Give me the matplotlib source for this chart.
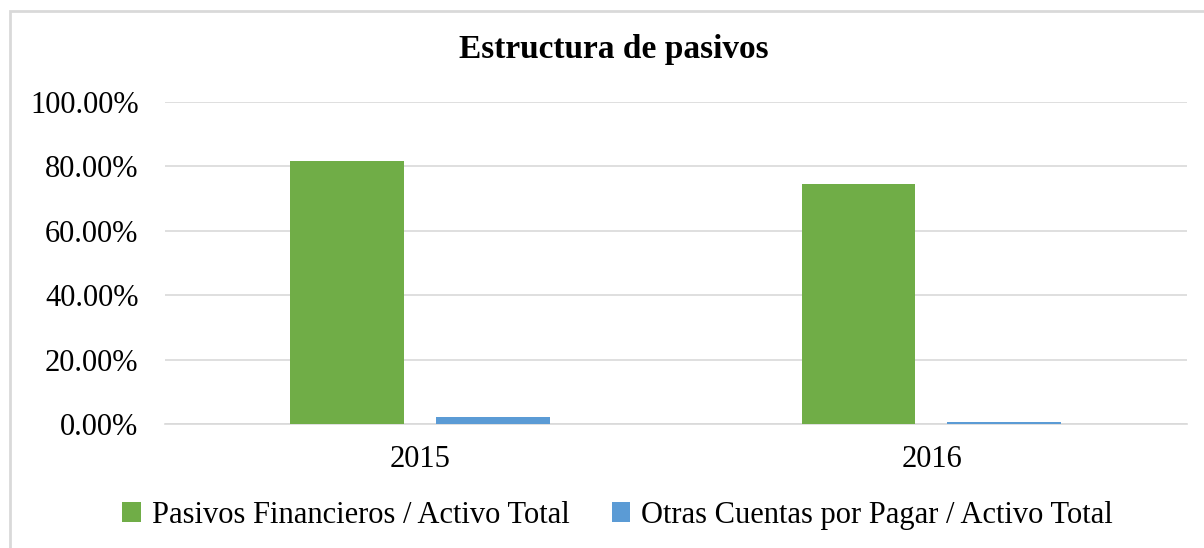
import matplotlib.pyplot as plt
import matplotlib as mpl
from matplotlib.patches import Rectangle
from matplotlib.ticker import FuncFormatter
import numpy as np

mpl.rcParams['font.family'] = ['Liberation Serif', 'DejaVu Serif']

years = ['2015', '2016']
pasivos_fin = [81.6, 74.4]
otras_cuentas = [2.1, 0.7]
series_names = ['Pasivos Financieros / Activo Total', 'Otras Cuentas por Pagar / Activo Total']

green = '#70AD47'
blue = '#5B9BD5'
grid = '#D9D9D9'

fig = plt.figure(figsize=(12.04, 5.48), dpi=100)
ax = fig.add_axes([0.137, 0.226, 0.849, 0.588])

x = np.arange(len(years))
w = 0.223
ax.bar(x - 0.143, pasivos_fin, width=w, color=green, label=series_names[0], zorder=3)
ax.bar(x + 0.141, otras_cuentas, width=w, color=blue, label=series_names[1], zorder=3)

ax.set_xlim(-0.5, 1.5)
ax.set_ylim(0, 100)
ax.set_yticks(np.arange(0, 101, 20))
ax.yaxis.set_major_formatter(FuncFormatter(lambda v, p: '{:.2f}%'.format(v)))
ax.set_xticks(x)
ax.set_xticklabels(years)
ax.tick_params(axis='both', length=0, labelsize=22, colors='#000000')
ax.tick_params(axis='y', pad=19)
ax.tick_params(axis='x', pad=15)
ax.grid(axis='y', color=grid, linewidth=1.2, zorder=0)
for s in ['top', 'right', 'left']:
    ax.spines[s].set_visible(False)
ax.spines['bottom'].set_color(grid)
ax.spines['bottom'].set_linewidth(1.2)

fig.text(0.51, 0.909, 'Estructura de pasivos', ha='center', va='center',
         fontsize=24, fontweight='bold')

fig.legend(loc='center', bbox_to_anchor=(0.513, 0.06), ncol=2, frameon=False,
           fontsize=22, handlelength=0.6, handleheight=0.6, handletextpad=0.35,
           columnspacing=1.4)

# outer chart border
fig.patches.append(Rectangle((10 / 1204, -0.1), 1.2, 1 - 11 / 548 + 0.1,
                             transform=fig.transFigure, fill=False,
                             edgecolor=grid, linewidth=2))

fig.savefig('out.png', dpi=100)
